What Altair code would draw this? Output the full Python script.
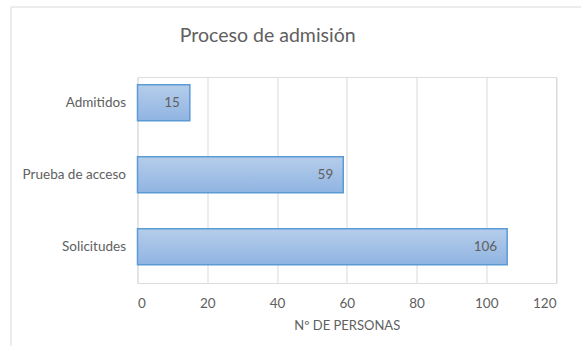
import altair as alt
import pandas as pd

categories = ["Admitidos", "Prueba de acceso", "Solicitudes"]
values = [15, 59, 106]
x_ticks = [0, 20, 40, 60, 80, 100, 120]

df = pd.DataFrame({"cat": categories, "val": values})

FONT = "Lato"
GRAY = "#606060"

y_enc = alt.Y("cat:N", sort=categories, title=None,
              scale=alt.Scale(paddingInner=0.5, paddingOuter=0.18, align=0.3),
              axis=alt.Axis(ticks=False, domain=False, labelPadding=12, labelFontSize=13.5,
                            labelColor=GRAY, labelFont=FONT))
x_enc = alt.X("val:Q", title="Nº DE PERSONAS",
              scale=alt.Scale(domain=[0, 120], nice=False),
              axis=alt.Axis(values=x_ticks, ticks=False, domain=False, grid=True,
                            gridColor="#d9d9d9", labelPadding=13, labelFontSize=13.5,
                            labelColor=GRAY, labelFont=FONT, titleFont=FONT,
                            titleFontSize=13, titleColor=GRAY, titleFontWeight="normal",
                            titlePadding=10))

frame = alt.Chart(df).mark_rect(fill=None, stroke="#d9d9d9", strokeWidth=1).encode(
    x=alt.value(-126.5), x2=alt.value(600), y=alt.value(-70), y2=alt.value(400)
).transform_filter(alt.datum.cat == "Admitidos")

bars = alt.Chart(df).mark_bar(
    color=alt.Gradient(gradient="linear", x1=0, x2=0, y1=0, y2=1,
                       stops=[alt.GradientStop(color="#b5cdea", offset=0),
                              alt.GradientStop(color="#90b4e2", offset=1)]),
    stroke="#5b9bd5", strokeWidth=1.5
).encode(y=y_enc, x=x_enc)

labels = alt.Chart(df).mark_text(align="right", baseline="middle", dx=-10, fontSize=13.5,
                                 color=GRAY, font=FONT).encode(
    y=alt.Y("cat:N", sort=categories), x="val:Q", text="val:Q")

chart = alt.layer(frame, bars, labels).properties(
    width=418.5, height=206,
    autosize=alt.AutoSizeParams(type="none"),
    padding={"left": 137.5, "top": 77, "right": 25, "bottom": 63},
    title=alt.TitleParams("Proceso  de admisión", anchor="middle", frame="group",
                          dx=-79, offset=-55, baseline="alphabetic", fontSize=19.5,
                          font=FONT, color=GRAY, fontWeight="normal"),
).configure_view(stroke=None).configure(background="white")

chart.save("out.html", embed_options={"renderer": "svg", "actions": False})
